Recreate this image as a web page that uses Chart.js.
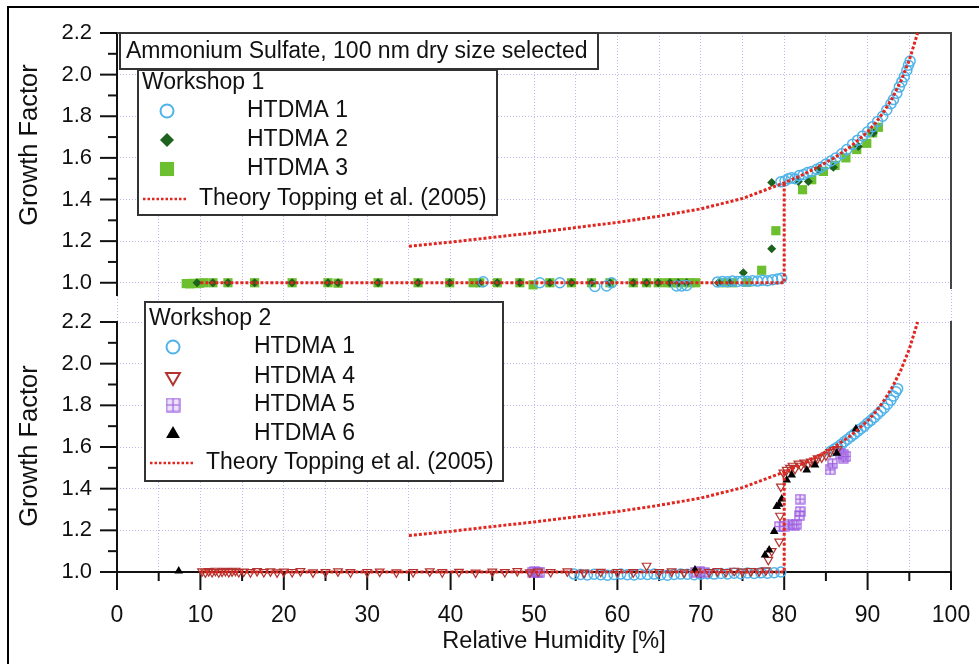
<!DOCTYPE html>
<html>
<head>
<meta charset="utf-8">
<title>Ammonium Sulfate growth factor</title>
<script src="https://cdn.jsdelivr.net/npm/chart.js@4.4.0/dist/chart.umd.min.js"></script>
<style>
  html, body { margin: 0; padding: 0; background: #fff; }
  #wrap { position: relative; width: 979px; height: 664px; overflow: hidden; background: #fff; }
  #wrap canvas { position: absolute; left: 0; top: 0; }
  #frame { position: absolute; left: 7px; top: 6px; width: 1000px; height: 700px;
           border-left: 2px solid #000; border-top: 2px solid #000; }
</style>
</head>
<body>
<div id="wrap">
  <div id="frame"></div>
  <canvas id="bottom-chart" width="979" height="664"></canvas>
  <canvas id="top-chart" width="979" height="664"></canvas>
</div>
<script>
//
// Data
//
const rhTicks = [0, 5, 10, 15, 20, 25, 30, 35, 40, 45, 50, 55, 60, 65, 70, 75, 80, 85, 90, 95, 100];
const gfTicks = [1.0, 1.1, 1.2, 1.3, 1.4, 1.5, 1.6, 1.7, 1.8, 1.9, 2.0, 2.1, 2.2];

// Theory Topping et al. (2005): deliquescence branch and the curve
const theoryDelRH = [10, 80, 80];
const theoryDelGF = [1.0, 1.0, 1.48];
const theoryRH = [35, 40, 45, 50, 55, 60, 65, 70, 75, 80, 82, 84, 86, 88, 90, 91, 92, 93, 94, 95, 96];
const theoryGF = [1.175, 1.195, 1.218, 1.24, 1.265, 1.29, 1.32, 1.355, 1.405, 1.48, 1.515, 1.555, 1.60, 1.655, 1.725, 1.77, 1.825, 1.89, 1.97, 2.07, 2.2];

// Workshop 1
const w1h1RH = [43.9, 50.7, 53.1, 57.3, 58.7, 59.3, 67.1, 67.7, 68.3, 72.0, 72.6, 73.2, 73.8, 74.4, 75.0, 75.6, 76.2, 76.8, 77.4, 78.0, 78.6, 79.2, 79.7, 79.6,
  80.1, 80.5, 80.9, 81.3, 81.8, 82.3, 82.8, 83.3, 83.9, 84.4, 85.0, 85.6, 86.2, 86.9, 87.5, 88.2, 88.8, 89.4, 90.0, 90.6, 91.2, 91.8, 92.3, 92.8, 93.1, 93.5, 93.8, 94.1, 94.4, 94.7, 94.9, 95.1];
const w1h1GF = [1.005, 1.0, 1.0, 0.982, 0.985, 1.0, 0.985, 0.985, 0.987, 1.004, 1.006, 1.005, 1.008, 1.006, 1.009, 1.007, 1.010, 1.008, 1.012, 1.010, 1.015, 1.018, 1.022, 1.485,
  1.49, 1.50, 1.505, 1.50, 1.515, 1.52, 1.53, 1.535, 1.545, 1.555, 1.57, 1.585, 1.60, 1.62, 1.64, 1.665, 1.685, 1.705, 1.725, 1.75, 1.775, 1.80, 1.83, 1.86, 1.88, 1.91, 1.94, 1.965, 1.99, 2.02, 2.045, 2.065];

const w1h2RH = [9.6, 11.5, 13.3, 16.5, 21.0, 25.3, 26.5, 31.3, 36.1, 39.9, 43.5, 45.6, 48.3, 51.9, 54.5, 56.9, 59.1, 61.9, 63.5, 64.9, 66.3, 67.3, 68.3, 72.1, 73.5,
  75.1, 78.5, 78.5, 81.7, 82.9, 84.1, 85.9, 88.9, 90.7];
const w1h2GF = [1.0, 1.0, 1.0, 1.0, 1.0, 1.0, 1.0, 1.0, 1.0, 1.0, 1.0, 1.0, 1.0, 1.0, 1.0, 1.0, 1.0, 1.0, 1.0, 1.0, 1.0, 1.0, 1.0, 1.0, 1.0,
  1.048, 1.163, 1.482, 1.487, 1.487, 1.543, 1.555, 1.655, 1.72];

const w1h3RH = [8.3, 8.7, 9.1, 9.5, 9.9, 10.4, 11.5, 13.3, 16.5, 21.0, 25.3, 26.5, 31.3, 36.1, 39.9, 42.7, 43.5, 45.6, 48.3, 49.9, 51.9, 54.5, 56.9, 59.1, 61.9,
  63.5, 64.9, 66.0, 66.6, 67.3, 68.0, 68.7, 69.4, 72.7, 73.8, 75.5, 77.3, 79.0, 82.2, 83.3, 84.7, 86.1, 87.4, 88.7, 89.9, 90.6, 91.3];
const w1h3GF = [0.996, 0.995, 0.997, 0.996, 0.998, 1.0, 1.0, 1.0, 1.0, 1.0, 1.0, 0.998, 1.0, 1.0, 1.0, 1.0, 1.0, 1.0, 1.0, 0.99, 1.0, 1.0, 1.0, 1.0, 1.0,
  1.0, 1.0, 1.0, 1.0, 1.0, 1.0, 1.0, 1.0, 1.0, 1.0, 1.002, 1.06, 1.25, 1.447, 1.495, 1.535, 1.564, 1.60, 1.64, 1.67, 1.72, 1.747];

// Workshop 2
const w2h1RH = [54.8, 55.6, 56.4, 57.2, 58.0, 58.8, 59.6, 60.4, 61.2, 62.0, 62.8, 63.6, 64.4, 65.2, 66.0, 66.8, 67.6, 68.4, 69.2, 70.0, 70.8, 71.6, 72.4, 73.2, 74.0, 74.8, 75.6, 76.4, 77.2, 78.0, 78.8, 79.6,
  85.6, 86.0, 86.4, 86.8, 87.2, 87.6, 88.0, 88.4, 88.8, 89.2, 89.6, 90.0, 90.4, 90.8, 91.2, 91.6, 92.0, 92.4, 92.8, 93.1, 93.4, 93.6];
const w2h1GF = [0.99, 0.988, 0.986, 0.989, 0.987, 0.985, 0.988, 0.99, 0.987, 0.986, 0.989, 0.988, 0.99, 0.987, 0.985, 0.988, 0.99, 0.989, 0.987, 0.99, 0.992, 0.99, 0.993, 0.991, 0.994, 0.992, 0.995, 0.993, 0.996, 0.994, 0.997, 1.0,
  1.58, 1.59, 1.60, 1.612, 1.625, 1.637, 1.65, 1.662, 1.675, 1.688, 1.70, 1.715, 1.728, 1.742, 1.757, 1.772, 1.787, 1.805, 1.825, 1.845, 1.865, 1.88];

const w2h4RH = [10.2, 10.6, 11.0, 11.4, 11.8, 12.2, 12.6, 13.0, 13.4, 13.8, 14.2, 14.6, 15.2, 16.0, 16.8, 17.6, 18.4, 19.2, 20.0, 21.0,
  22.0, 23.5, 25.0, 26.5, 28.0, 30.0, 31.5, 33.5, 35.5, 37.5, 39.0, 41.0, 43.0, 45.0, 46.5, 48.0, 49.5, 50.5, 52.0, 54.0,
  56.0, 58.0, 60.0, 61.9, 63.5, 65.0, 66.5, 68.0, 69.5, 71.0, 72.0, 73.0, 74.0, 75.0, 76.0, 77.0, 77.8,
  78.1, 78.5, 79.4, 79.5, 79.6, 79.9, 80.3, 80.7, 81.0, 81.3, 81.7, 82.0, 82.4, 82.8, 83.2, 83.6, 84.0, 84.5, 85.0, 85.5, 86.0, 86.4];
const w2h4GF = [1.003, 0.998, 1.004, 1.0, 1.006, 0.999, 1.002, 1.005, 1.0, 1.003, 1.006, 1.0, 1.002, 0.999, 1.004, 1.0, 1.003, 0.998, 1.002, 1.0,
  1.004, 0.998, 1.0, 1.003, 0.999, 1.0, 1.002, 0.998, 1.0, 1.003, 0.999, 1.001, 0.997, 1.002, 1.0, 1.004, 0.998, 1.002, 1.0, 1.003,
  0.997, 1.001, 1.0, 0.999, 1.03, 1.0, 1.003, 0.998, 1.002, 1.0, 1.004, 1.0, 1.006, 1.002, 1.004, 1.003, 1.008,
  1.058, 1.10, 1.146, 1.27, 1.41, 1.477, 1.49, 1.50, 1.51, 1.495, 1.52, 1.51, 1.525, 1.515, 1.53, 1.535, 1.545, 1.55, 1.56, 1.575, 1.585, 1.59];

const w2h5RH = [49.8, 50.1, 50.4, 50.7, 69.4, 69.9, 70.4, 79.4, 80.0, 80.5, 81.2, 81.5, 81.8, 81.9, 81.9, 85.5, 85.8, 86.8, 87.1, 87.1, 87.4];
const w2h5GF = [1.0, 1.003, 0.998, 1.0, 1.0, 1.002, 0.998, 1.218, 1.22, 1.23, 1.225, 1.23, 1.27, 1.29, 1.35, 1.49, 1.52, 1.57, 1.563, 1.547, 1.555];

const w2h6RH = [7.4, 69.3, 77.7, 78.2, 78.8, 79.1, 79.4, 79.7, 80.3, 80.9, 82.7, 83.7, 86.3, 88.6];
const w2h6GF = [1.005, 1.01, 1.082, 1.106, 1.194, 1.314, 1.325, 1.35, 1.442, 1.466, 1.49, 1.514, 1.57, 1.686];

//
// Styles
//
const BLUE = '#4fb3ea';
const DKGREEN = '#1d631d';
const LTGREEN = '#6cbf2e';
const RED = '#e0261f';
const BROWN = '#b2332f';
const PURPLE = '#9a5ae0';
const GRID = 'rgba(150, 150, 235, 0.65)';
const FONT = '"Liberation Sans", Arial, sans-serif';

Chart.defaults.font.family = FONT;
Chart.defaults.color = '#111';

const isMajorGF = v => Math.round(v * 10) % 2 === 0;
const isMajorRH = v => Math.round(v) % 10 === 0;

function pts(xs, ys) {
    return xs.map((x, i) => ({ x: x, y: ys[i] }));
}

// square with a plus inside (HTDMA 5)
function boxPlus(size) {
    const c = document.createElement('canvas');
    c.width = size;
    c.height = size;
    const g = c.getContext('2d');
    g.fillStyle = 'rgba(200, 170, 240, 0.35)';
    g.fillRect(1, 1, size - 2, size - 2);
    g.strokeStyle = PURPLE;
    g.lineWidth = 1.2;
    g.strokeRect(1, 1, size - 2, size - 2);
    g.beginPath();
    g.moveTo(size / 2, 1); g.lineTo(size / 2, size - 1);
    g.moveTo(1, size / 2); g.lineTo(size - 1, size / 2);
    g.stroke();
    return c;
}

const circleStyle = { pointStyle: 'circle', pointRadius: 5, pointBorderWidth: 1.5, pointBorderColor: BLUE, pointBackgroundColor: 'rgba(255,255,255,0)' };
const diamondStyle = { pointStyle: 'rectRot', pointRadius: 4.5, pointBorderWidth: 0, pointBorderColor: DKGREEN, pointBackgroundColor: DKGREEN };
const squareStyle = { pointStyle: 'rect', pointRadius: 6.5, pointBorderWidth: 0, pointBorderColor: LTGREEN, pointBackgroundColor: LTGREEN };
const triDownStyle = { pointStyle: 'triangle', pointRotation: 180, pointRadius: 5, pointBorderWidth: 1.2, pointBorderColor: BROWN, pointBackgroundColor: 'rgba(255,255,255,0)' };
const boxPlusStyle = { pointStyle: boxPlus(11), pointRadius: 5 };
const triUpStyle = { pointStyle: 'triangle', pointRadius: 5, pointBorderWidth: 0, pointBorderColor: '#000', pointBackgroundColor: '#000' };

function markers(xs, ys, style) {
    return Object.assign({ data: pts(xs, ys), showLine: false, clip: false }, style);
}

function theoryLine(xs, ys) {
    return {
        data: pts(xs, ys),
        showLine: true,
        borderColor: RED,
        borderWidth: 3,
        borderDash: [3, 2],
        pointRadius: 0,
        fill: false,
        tension: 0,
        clip: false
    };
}

function line(ctx, x0, y0, x1, y1) {
    ctx.beginPath();
    ctx.moveTo(x0, y0);
    ctx.lineTo(x1, y1);
    ctx.stroke();
}

//
// Axes, frames, titles and legends drawn by a small plugin
//
function decoPlugin(panel) {
    return {
        id: 'deco',
        beforeDatasetsDraw(chart) {
            const ctx = chart.ctx;
            const a = chart.chartArea;
            const x = chart.scales.x;
            const y = chart.scales.y;
            const yTop = y.getPixelForValue(2.2);
            const yOne = y.getPixelForValue(1.0);
            ctx.save();
            ctx.lineCap = 'butt';
            // y axis and ticks
            ctx.strokeStyle = '#111';
            ctx.lineWidth = 2;
            line(ctx, a.left, yTop - 1, a.left, panel.axisBottom);
            gfTicks.forEach(v => {
                const py = y.getPixelForValue(v);
                line(ctx, a.left - (isMajorGF(v) ? 17 : 9), py, a.left, py);
            });
            // frame
            ctx.strokeStyle = '#444';
            line(ctx, a.right, yTop - 1, a.right, panel.rightBottom);
            if (panel.topBorder) {
                line(ctx, a.left, yTop, a.right + 1, yTop);
            }
            // x axis
            if (panel.xAxis) {
                ctx.strokeStyle = '#111';
                line(ctx, a.left - 1, yOne, a.right + 1, yOne);
                rhTicks.forEach(v => {
                    const px = x.getPixelForValue(v);
                    line(ctx, px, yOne, px, yOne + (isMajorRH(v) ? 18 : 9));
                });
                ctx.fillStyle = '#111';
                ctx.font = '23.5px ' + FONT;
                ctx.textAlign = 'center';
                ctx.textBaseline = 'middle';
                ctx.fillText('Relative Humidity [%]', 554, yOne + 70);
            }
            // y title
            ctx.fillStyle = '#111';
            ctx.font = '25.5px ' + FONT;
            ctx.textAlign = 'center';
            ctx.textBaseline = 'middle';
            ctx.save();
            ctx.translate(30, panel.titleY);
            ctx.rotate(-Math.PI / 2);
            ctx.fillText('Growth Factor', 0, 0);
            ctx.restore();
            ctx.restore();
        },
        afterDatasetsDraw(chart) {
            const ctx = chart.ctx;
            const lg = panel.legend;
            ctx.save();
            ctx.lineWidth = 2;
            ctx.strokeStyle = '#333';
            ctx.fillStyle = '#fff';
            if (panel.title) {
                const t = panel.title;
                ctx.fillRect(t.x, t.y, t.w, t.h);
                ctx.strokeRect(t.x, t.y, t.w, t.h);
                ctx.fillStyle = '#111';
                ctx.font = '23px ' + FONT;
                ctx.textAlign = 'left';
                ctx.textBaseline = 'middle';
                ctx.fillText(t.text, t.x + 6, t.y + t.h / 2 + 1);
            }
            // legend box
            ctx.fillStyle = '#fff';
            ctx.fillRect(lg.x, lg.y, lg.w, lg.h);
            ctx.strokeRect(lg.x, lg.y, lg.w, lg.h);
            ctx.fillStyle = '#111';
            ctx.font = '23px ' + FONT;
            ctx.textAlign = 'left';
            ctx.textBaseline = 'middle';
            ctx.fillText(lg.heading, lg.x + 4, lg.headY);
            lg.rows.forEach(r => {
                ctx.fillStyle = r.fill;
                ctx.strokeStyle = r.stroke;
                Chart.helpers.drawPoint(ctx, {
                    pointStyle: r.style,
                    radius: r.radius,
                    rotation: r.rotation || 0,
                    borderWidth: r.bw
                }, lg.symX, r.y);
                ctx.fillStyle = '#111';
                ctx.fillText(r.label, lg.textX, r.y);
            });
            // theory row
            ctx.strokeStyle = RED;
            ctx.lineWidth = 2.5;
            ctx.setLineDash([2.5, 2]);
            line(ctx, lg.x + 5, lg.theoryY, lg.x + 50, lg.theoryY);
            ctx.setLineDash([]);
            ctx.fillStyle = '#111';
            ctx.fillText('Theory Topping et al. (2005)', lg.x + 61, lg.theoryY);
            ctx.restore();
        }
    };
}

function gridColor() {
    return GRID;
}

function baseOptions(yMin, yMax, padding, showX) {
    return {
        responsive: false,
        animation: false,
        events: [],
        layout: { padding: padding },
        plugins: {
            legend: { display: false },
            tooltip: { enabled: false }
        },
        scales: {
            x: {
                type: 'linear',
                min: 0,
                max: 100,
                afterBuildTicks: s => { s.ticks = rhTicks.map(v => ({ value: v })); },
                afterFit: s => {
                    s.height = showX ? 80 : 0;
                    s.paddingLeft = 0;
                    s.paddingRight = 0;
                },
                border: { display: false, dash: [1, 2] },
                grid: { color: gridColor, lineWidth: 1, drawTicks: false, tickLength: 0 },
                ticks: {
                    display: showX,
                    autoSkip: false,
                    maxRotation: 0,
                    padding: 30,
                    color: '#111',
                    font: { size: 23 },
                    callback: v => (isMajorRH(v) ? String(v) : '')
                }
            },
            y: {
                type: 'linear',
                min: yMin,
                max: yMax,
                afterBuildTicks: s => { s.ticks = gfTicks.map(v => ({ value: v })); },
                afterFit: s => {
                    s.width = 117;
                    s.paddingTop = 0;
                    s.paddingBottom = 0;
                },
                border: { display: false, dash: [1, 2] },
                grid: { color: gridColor, lineWidth: 1, drawTicks: false, tickLength: 0 },
                ticks: {
                    padding: 25,
                    color: '#111',
                    font: { size: 22 },
                    callback: v => (isMajorGF(v) ? v.toFixed(1) : '')
                }
            }
        }
    };
}

//
// Top panel - Workshop 1
//
const topChart = new Chart(document.getElementById('top-chart'), {
    type: 'scatter',
    data: {
        datasets: [
            theoryLine(theoryDelRH, theoryDelGF),
            theoryLine(theoryRH, theoryGF),
            markers(w1h1RH, w1h1GF, circleStyle),
            markers(w1h2RH, w1h2GF, diamondStyle),
            markers(w1h3RH, w1h3GF, squareStyle)
        ]
    },
    options: baseOptions(0.97, 2.2, { top: 33, bottom: 375, left: 0, right: 28 }, false),
    plugins: [decoPlugin({
        axisBottom: 296,
        rightBottom: 289,
        topBorder: true,
        xAxis: false,
        titleY: 145,
        title: { x: 120, y: 33, w: 478, h: 36, text: 'Ammonium Sulfate, 100 nm dry size selected' },
        legend: {
            x: 138, y: 70, w: 359, h: 145,
            heading: 'Workshop 1', headY: 83,
            symX: 167, textX: 247, theoryY: 199,
            rows: [
                { label: 'HTDMA 1', y: 111, style: 'circle', radius: 6.5, fill: 'rgba(255,255,255,0)', stroke: BLUE, bw: 1.5 },
                { label: 'HTDMA 2', y: 140, style: 'rectRot', radius: 7, fill: DKGREEN, stroke: DKGREEN, bw: 0 },
                { label: 'HTDMA 3', y: 169, style: 'rect', radius: 10, fill: LTGREEN, stroke: LTGREEN, bw: 0 }
            ]
        }
    })]
});

//
// Bottom panel - Workshop 2
//
const bottomChart = new Chart(document.getElementById('bottom-chart'), {
    type: 'scatter',
    data: {
        datasets: [
            theoryLine(theoryDelRH, theoryDelGF),
            theoryLine(theoryRH, theoryGF),
            markers(w2h6RH, w2h6GF, triUpStyle),
            markers(w2h4RH, w2h4GF, triDownStyle),
            markers(w2h5RH, w2h5GF, boxPlusStyle),
            markers(w2h1RH, w2h1GF, circleStyle)
        ]
    },
    options: baseOptions(1.0, 2.3536, { top: 290, bottom: 12, left: 0, right: 28 }, true),
    plugins: [decoPlugin({
        axisBottom: 590,
        rightBottom: 590,
        topBorder: false,
        xAxis: true,
        titleY: 446,
        title: null,
        legend: {
            x: 145, y: 302, w: 358, h: 179,
            heading: 'Workshop 2', headY: 319,
            symX: 173, textX: 254, theoryY: 463,
            rows: [
                { label: 'HTDMA 1', y: 347, style: 'circle', radius: 6.5, fill: 'rgba(255,255,255,0)', stroke: BLUE, bw: 1.5 },
                { label: 'HTDMA 4', y: 377, style: 'triangle', rotation: 180, radius: 8, fill: 'rgba(255,255,255,0)', stroke: BROWN, bw: 1.3 },
                { label: 'HTDMA 5', y: 405, style: boxPlus(15), radius: 7, fill: PURPLE, stroke: PURPLE, bw: 0 },
                { label: 'HTDMA 6', y: 434, style: 'triangle', radius: 8, fill: '#000', stroke: '#000', bw: 0 }
            ]
        }
    })]
});
</script>
</body>
</html>
